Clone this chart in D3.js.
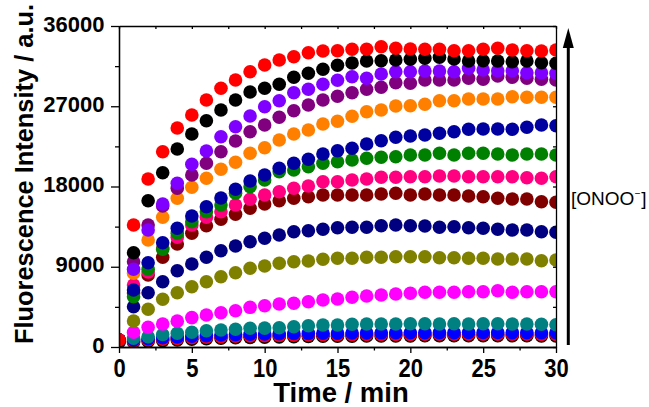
<!DOCTYPE html>
<html>
<head>
<meta charset="utf-8">
<script src="https://cdn.jsdelivr.net/npm/d3@7"></script>
<style>
  body { margin: 0; background: #fff; }
  svg { display: block; font-family: "Liberation Sans", Arial, sans-serif; }
</style>
</head>
<body>
<div id="chart"></div>
<script>
const times = [0, 1, 2, 3, 4, 5, 6, 7, 8, 9, 10, 11, 12, 13, 14, 15, 16, 17, 18, 19, 20, 21, 22, 23, 24, 25, 26, 27, 28, 29, 30]
const xTicks = [0, 5, 10, 15, 20, 25, 30]
const xMinor = [2.5, 7.5, 12.5, 17.5, 22.5, 27.5]
const yTicks = [0, 9000, 18000, 27000, 36000]
const yMinor = [4500, 13500, 22500, 31500]

// lowest [ONOO-] first, drawn first
const black0 = [560, 560, 640, 720, 800, 880, 940, 1000, 1040, 1080, 1110, 1140, 1160, 1180, 1200, 1210, 1220, 1230, 1240, 1250, 1250, 1260, 1260, 1260, 1260, 1270, 1270, 1260, 1260, 1250, 1250]
const red0 = [670, 650, 780, 880, 960, 1040, 1100, 1160, 1210, 1250, 1280, 1310, 1330, 1350, 1370, 1380, 1390, 1400, 1410, 1420, 1420, 1430, 1430, 1430, 1440, 1440, 1440, 1430, 1430, 1420, 1420]
const blue = [700, 800, 930, 1040, 1130, 1210, 1280, 1340, 1390, 1430, 1460, 1490, 1510, 1530, 1550, 1560, 1570, 1580, 1590, 1600, 1600, 1610, 1610, 1610, 1620, 1620, 1620, 1610, 1610, 1600, 1600]
const teal = [750, 1000, 1155, 1400, 1536, 1649, 1828, 1907, 1985, 2097, 2120, 2164, 2277, 2389, 2467, 2467, 2546, 2579, 2579, 2579, 2613, 2613, 2579, 2613, 2579, 2613, 2613, 2579, 2579, 2546, 2500]
const magenta = [780, 1649, 2209, 2579, 2900, 3300, 3589, 3847, 4071, 4450, 4632, 4822, 4901, 5080, 5271, 5383, 5574, 5720, 5832, 5944, 6022, 6135, 6135, 6135, 6202, 6202, 6314, 6135, 6202, 6202, 6202]
const olive = [780, 2916, 4228, 5350, 6090, 6763, 7323, 7884, 8333, 8826, 9084, 9387, 9566, 9645, 9836, 9948, 9948, 10060, 10060, 10127, 10127, 10127, 10015, 10015, 9948, 9948, 9869, 9869, 9869, 9678, 9757]
const navy = [780, 4520, 6090, 7323, 8557, 9308, 10060, 10800, 11327, 11809, 12191, 12561, 12931, 13043, 13200, 13380, 13424, 13424, 13604, 13682, 13604, 13570, 13424, 13492, 13380, 13312, 13200, 13122, 13122, 12931, 12864]
const maroon = [780, 6056, 8075, 10060, 11551, 12751, 13604, 14322, 14882, 15555, 16037, 16408, 16677, 16856, 17047, 17047, 17047, 17047, 17159, 17237, 17047, 17159, 17047, 17047, 16935, 16856, 16677, 16598, 16598, 16295, 16228]
const pink = [780, 6953, 8411, 11103, 12303, 13682, 14546, 15174, 15925, 16565, 17047, 17417, 17798, 18056, 18538, 18538, 18729, 18841, 19032, 19032, 19099, 19099, 19178, 19178, 19099, 19099, 19099, 19099, 18987, 18920, 19099]
const green = [780, 5641, 8714, 10957, 12751, 14052, 15174, 15925, 17237, 17978, 18729, 19660, 19851, 20221, 20602, 20781, 20972, 21163, 21275, 21342, 21533, 21533, 21723, 21533, 21723, 21723, 21645, 21533, 21645, 21645, 21533]
const royal = [780, 6393, 9454, 11697, 13312, 14692, 15735, 16710, 17686, 18617, 19290, 20041, 20602, 21050, 21645, 22015, 22284, 22766, 23137, 23518, 23664, 23776, 23966, 24146, 24415, 24449, 24449, 24415, 24639, 24897, 24819]
const orange = [780, 8265, 12000, 14546, 16677, 17910, 18920, 19929, 20714, 21723, 22351, 23215, 23888, 24337, 25009, 25324, 25873, 26389, 26580, 27028, 27062, 27218, 27623, 27623, 27813, 27813, 27813, 28071, 28004, 28004, 28004]
const purple = [780, 9566, 13682, 15813, 17798, 19290, 20602, 21903, 23103, 24146, 24897, 25761, 26501, 27140, 27701, 28116, 28520, 28901, 29125, 29641, 29574, 29944, 29944, 29944, 30135, 30022, 30393, 30247, 30135, 30022, 29944]
const violet = [780, 8714, 13122, 16037, 18359, 20490, 21981, 23585, 24707, 25907, 26950, 27623, 28520, 28901, 29462, 29910, 30314, 30135, 30617, 30875, 30875, 30953, 30953, 30875, 31256, 31066, 30987, 30987, 30763, 30763, 30695]
const blackTop = [700, 10576, 16408, 19548, 22206, 23888, 25380, 26580, 27701, 28598, 29013, 29462, 30247, 30695, 31144, 31593, 31851, 32075, 32109, 32187, 32265, 32377, 32490, 32299, 32075, 32109, 32075, 31997, 32075, 31884, 31817]
const redTop = [785, 13682, 18841, 21903, 24561, 26019, 27701, 29013, 29944, 30875, 31626, 32187, 32557, 33006, 33196, 33230, 33387, 33387, 33679, 33499, 33421, 33387, 33387, 33230, 33230, 33387, 33499, 33309, 33230, 33196, 33309]

const series = [
    { color: '#000000', values: black0 },
    { color: '#FF0000', values: red0 },
    { color: '#0000FF', values: blue },
    { color: '#008080', values: teal },
    { color: '#FF00FF', values: magenta },
    { color: '#808000', values: olive },
    { color: '#000080', values: navy },
    { color: '#800000', values: maroon },
    { color: '#FF0080', values: pink },
    { color: '#008000', values: green },
    { color: '#0000A0', values: royal },
    { color: '#FF8000', values: orange },
    { color: '#800080', values: purple },
    { color: '#8000FF', values: violet },
    { color: '#000000', values: blackTop },
    { color: '#FF0000', values: redTop }
]

const width = 649
const height = 407
const plotLeft = 119, plotRight = 556, plotTop = 26, plotBottom = 347

const svg = d3.select('#chart')
    .append('svg')
    .attr('width', width)
    .attr('height', height)

const xScale = d3.scaleLinear().domain([0, 30]).range([plotLeft, plotRight])
const yScale = d3.scaleLinear().domain([0, 36000]).range([plotBottom, plotTop])

svg.append('clipPath')
    .attr('id', 'plot-clip')
    .append('rect')
    .attr('x', plotLeft)
    .attr('y', plotTop)
    .attr('width', plotRight - plotLeft)
    .attr('height', plotBottom - plotTop)

// Points
const plot = svg.append('g').attr('clip-path', 'url(#plot-clip)')
series.forEach(s => {
    plot.append('g')
        .selectAll('circle')
        .data(times)
        .enter()
        .append('circle')
        .attr('cx', t => xScale(t))
        .attr('cy', (t, i) => yScale(s.values[i]))
        .attr('r', 6.8)
        .attr('fill', s.color)
})

// Axes
function styleAxis(g) {
    g.selectAll('path, line').attr('stroke', '#000').attr('stroke-width', 1.3)
}

// bottom
svg.append('g')
    .attr('transform', `translate(0, ${plotBottom})`)
    .call(d3.axisBottom(xScale).tickValues(xMinor).tickSize(3.5).tickSizeOuter(0).tickFormat(''))
    .call(styleAxis)
const xAxis = svg.append('g')
    .attr('transform', `translate(0, ${plotBottom})`)
    .call(d3.axisBottom(xScale).tickValues(xTicks).tickSize(6).tickSizeOuter(0))
    .call(styleAxis)
xAxis.selectAll('text')
    .attr('font-size', 22)
    .attr('font-weight', 'bold')
    .attr('font-family', '"Liberation Sans", Arial, sans-serif')
    .attr('fill', '#000')
    .attr('y', 9.5)
    .attr('dy', '0.71em')
    .attr('transform', 'scale(1, 1.2)')

// left
svg.append('g')
    .attr('transform', `translate(${plotLeft}, 0)`)
    .call(d3.axisLeft(yScale).tickValues(yMinor).tickSize(4).tickSizeOuter(0).tickFormat(''))
    .call(styleAxis)
const yAxis = svg.append('g')
    .attr('transform', `translate(${plotLeft}, 0)`)
    .call(d3.axisLeft(yScale).tickValues(yTicks).tickSize(8).tickSizeOuter(0).tickFormat(d3.format('d')))
    .call(styleAxis)
yAxis.selectAll('text')
    .attr('font-size', 22)
    .attr('font-weight', 'bold')
    .attr('font-family', '"Liberation Sans", Arial, sans-serif')
    .attr('fill', '#000')
    .attr('x', -14.5)
    .attr('dy', '0.23em')

// top and right, ticks inside
svg.append('g')
    .attr('transform', `translate(0, ${plotTop})`)
    .call(d3.axisTop(xScale).tickValues(xTicks.concat(xMinor)).tickSize(-3).tickSizeOuter(0).tickFormat(''))
    .call(styleAxis)
svg.append('g')
    .attr('transform', `translate(${plotRight}, 0)`)
    .call(d3.axisRight(yScale).tickValues(yTicks.concat(yMinor)).tickSize(-3).tickSizeOuter(0).tickFormat(''))
    .call(styleAxis)

// Axis titles
svg.append('text')
    .attr('x', 341)
    .attr('y', 401.8)
    .attr('text-anchor', 'middle')
    .attr('font-size', 27.5)
    .attr('font-weight', 'bold')
    .text('Time / min')

svg.append('text')
    .attr('transform', 'translate(33, 174) rotate(-90)')
    .attr('text-anchor', 'middle')
    .attr('font-size', 25.4)
    .attr('font-weight', 'bold')
    .text('Fluorescence Intensity / a.u.')

// Arrow for increasing [ONOO-]
const arrowX = 568.3
svg.append('line')
    .attr('x1', arrowX).attr('x2', arrowX)
    .attr('y1', 345).attr('y2', 44)
    .attr('stroke', '#000')
    .attr('stroke-width', 3)
svg.append('path')
    .attr('d', `M${arrowX},28 L${arrowX - 5.5},48 L${arrowX + 5.5},48 Z`)
    .attr('fill', '#000')

const label = svg.append('text')
    .attr('x', 571)
    .attr('y', 204.5)
    .attr('font-size', 19)
label.append('tspan').text('[ONOO')
label.append('tspan').attr('font-size', 10).attr('dy', -8).attr('dx', 0.5).text('\u2212')
label.append('tspan').attr('dy', 8).attr('dx', 0.5).text(']')
</script>
</body>
</html>
